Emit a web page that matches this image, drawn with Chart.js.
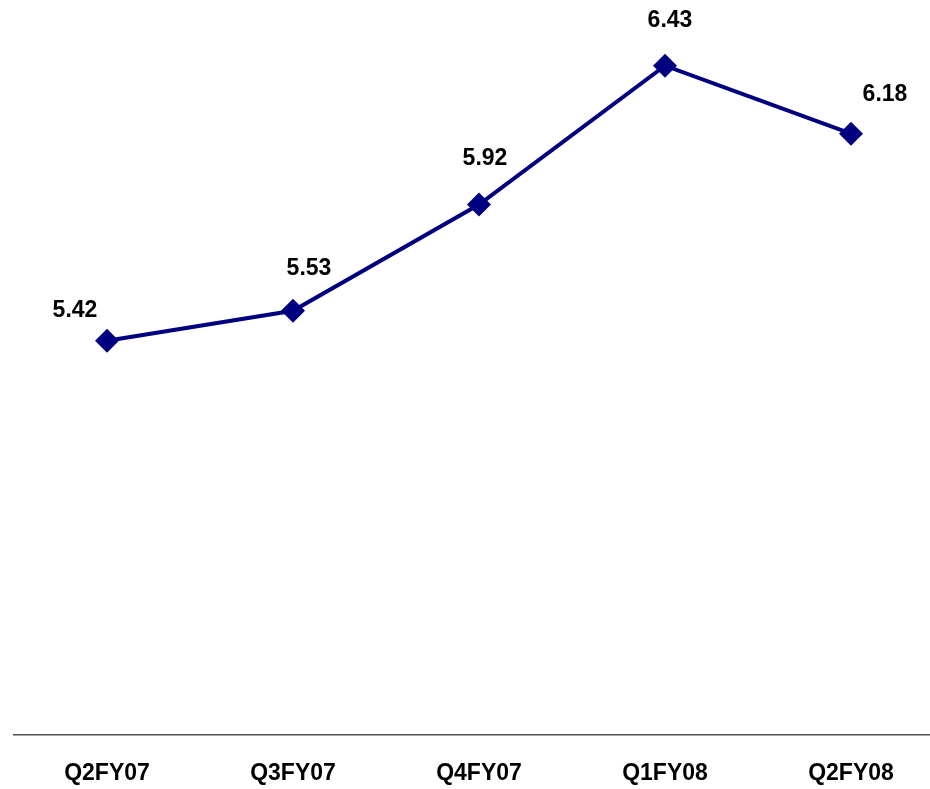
<!DOCTYPE html>
<html>
<head>
<meta charset="utf-8">
<script src="https://cdn.jsdelivr.net/npm/chart.js@4/dist/chart.umd.min.js"></script>
<style>
  html, body { margin: 0; padding: 0; background: #fff; overflow: hidden; }
  #wrap { width: 956px; height: 789px; }
</style>
</head>
<body>
<div id="wrap"><canvas id="chart-quarters" width="956" height="789"></canvas></div>
<script>
const quarters = ['Q2FY07', 'Q3FY07', 'Q4FY07', 'Q1FY08', 'Q2FY08'];
const values = [5.42, 5.53, 5.92, 6.43, 6.18];

const NAVY = '#000080';
const FONT_FAMILY = '"Liberation Sans Narrow", "Liberation Sans", Arial, sans-serif';

// value labels sit above each marker, nudged so they clear the line
const labelOffsets = [[-32, -30], [16, -42], [6, -46], [5, -45], [34, -39]];

const valueLabels = {
  id: 'valueLabels',
  afterDatasetsDraw(chart) {
    const { ctx } = chart;
    const meta = chart.getDatasetMeta(0);
    ctx.save();
    ctx.font = `bold 23px ${FONT_FAMILY}`;
    ctx.fillStyle = '#000';
    ctx.textAlign = 'center';
    ctx.textBaseline = 'middle';
    meta.data.forEach((pt, i) => {
      const [dx, dy] = labelOffsets[i] ?? [0, -40];
      ctx.fillText(values[i].toFixed(2), pt.x + dx, pt.y + dy);
    });
    ctx.restore();
  },
};

const ctx = document.getElementById('chart-quarters').getContext('2d');
new Chart(ctx, {
  type: 'line',
  data: {
    labels: quarters,
    datasets: [{
      data: values,
      borderColor: NAVY,
      backgroundColor: NAVY,
      borderWidth: 4,
      pointStyle: 'rectRot',
      pointRadius: 12,
      pointBorderWidth: 0,
      tension: 0,
    }],
  },
  options: {
    responsive: false,
    animation: false,
    layout: { padding: { top: 7, left: 14, right: 0, bottom: 0 } },
    plugins: { legend: { display: false }, tooltip: { enabled: false } },
    scales: {
      x: {
        offset: true,
        grid: { display: false, drawTicks: false },
        border: { display: true, color: '#4d4d4d', width: 1.5 },
        ticks: {
          padding: 25,
          color: '#000',
          font: { family: FONT_FAMILY, size: 23, weight: 'bold' },
          maxRotation: 0,
        },
        afterFit: (scale) => { scale.height = 54; },
      },
      y: {
        display: false,
        min: 3.972,
        max: 6.627,
      },
    },
  },
  plugins: [valueLabels],
});
</script>
</body>
</html>
